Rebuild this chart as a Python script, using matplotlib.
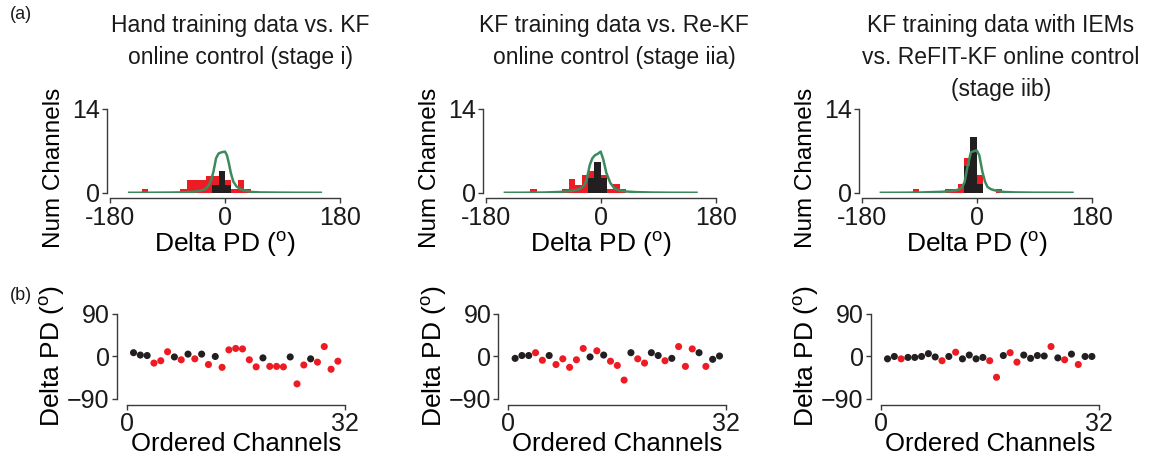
import matplotlib
matplotlib.use("Agg")
import matplotlib.pyplot as plt

plt.rcParams['font.family'] = ['Liberation Sans', 'DejaVu Sans']
plt.rcParams['mathtext.fontset'] = 'custom'
plt.rcParams['mathtext.rm'] = 'Liberation Sans'
plt.rcParams['mathtext.it'] = 'Liberation Sans'

# ---------------- data ----------------
titles = ["Hand training data vs. KF\nonline control (stage i)",
          "KF training data vs. Re-KF\nonline control (stage iia)",
          "KF training data with IEMs\nvs. ReFIT-KF online control\n(stage iib)"]

hist_xticks = [-180, 0, 180]
hist_yticks = [0, 14]
scat_xticks = [0, 32]
scat_yticks = [-90, 0, 90]
bin_width = 10

# histogram: left bin edges (deg) and bar heights
red_bins1 = [-130, -70, -60, -50, -40, -30, -20, -10, 0, 10, 20, 30]
red_h1 = [0.75, 0.7, 2.2, 2.2, 2.2, 2.9, 2.9, 2.9, 2.2, 0.7, 2.1, 0.7]
black_bins1 = [-20, -10, 0]
black_h1 = [1.4, 3.6, 1.4]

red_bins2 = [-110, -60, -50, -40, -30, -20, -10, 0, 10, 20, 30]
red_h2 = [0.75, 0.7, 2.3, 1.4, 3.0, 3.6, 5.0, 3.0, 0.75, 1.5, 0.75]
black_bins2 = [-20, -10, 0]
black_h2 = [2.5, 5.1, 2.5]

red_bins3 = [-100, -50, -40, -30, -20, -10, 0, 30]
red_h3 = [0.75, 0.75, 0.75, 1.5, 5.8, 9.4, 3.0, 0.75]
black_bins3 = [-20, -10, 0]
black_h3 = [4.5, 9.4, 1.5]

# green fitted curves
curve_x1 = [-150, -120, -90, -70, -50, -40, -31, -26, -22, -18, -14, -10, -5, 0,
            3, 6, 9, 13, 18, 24, 30, 40, 55, 80, 110, 150]
curve_y1 = [0.04, 0.05, 0.07, 0.1, 0.2, 0.35, 0.6, 1.2, 2.0, 3.6, 5.8, 6.6, 6.8, 6.9,
            6.3, 5.0, 3.4, 1.9, 1.1, 0.65, 0.42, 0.18, 0.1, 0.07, 0.05, 0.04]
curve_x2 = [-150, -120, -90, -65, -50, -40, -32, -26, -22, -17, -13, -9, -5, 0,
            4, 9, 15, 22, 30, 40, 55, 80, 110, 150]
curve_y2 = [0.04, 0.05, 0.08, 0.17, 0.3, 0.45, 0.7, 1.3, 2.2, 4.7, 5.8, 6.3, 6.5, 6.9,
            5.6, 3.3, 1.7, 0.7, 0.4, 0.25, 0.15, 0.08, 0.05, 0.04]
curve_x3 = [-150, -120, -90, -70, -55, -45, -35, -28, -23, -19, -14, -9, -4, 0,
            4, 9, 13, 17, 22, 28, 35, 43, 60, 90, 120, 150]
curve_y3 = [0.04, 0.05, 0.08, 0.15, 0.2, 0.28, 0.4, 0.6, 0.95, 1.8, 4.6, 6.8, 7.0, 7.1,
            6.3, 3.5, 1.9, 1.0, 0.65, 0.45, 0.3, 0.17, 0.1, 0.06, 0.05, 0.04]

# ordered channels: delta PD (deg) and significance flag (1 = red)
channels = list(range(1, 32))
dpd1 = [7, 2, 1, -15, -10, 9, -2, -8, 4, -6, 4, -18, -1, -24, 13, 16, 15, -8, -23, -4,
        -22, -22, -23, -2, -59, -19, -6, -13, 20, -28, -11]
sig1 = [0, 0, 0, 1, 1, 1, 0, 1, 0, 1, 0, 1, 0, 1, 1, 1, 1, 1, 1, 0,
        1, 1, 1, 0, 1, 1, 0, 1, 1, 1, 1]
dpd2 = [-5, 1, 1, 7, -9, 1, -18, -6, -24, -8, 16, -2, 11, 2, -11, -20, -51, 7, -6, -15,
        7, 1, -10, -5, 20, -22, 15, 7, -22, -7, 0]
sig2 = [0, 0, 0, 1, 1, 0, 1, 1, 1, 1, 1, 0, 1, 0, 1, 1, 1, 0, 1, 1,
        0, 0, 1, 0, 1, 1, 1, 0, 1, 0, 0]
dpd3 = [-6, -1, -6, -3, -3, -1, 5, -2, -10, -1, 8, -6, 2, -6, -3, -10, -45, 1, 7, -13,
        2, -5, 1, 0, 20, -4, -8, 4, -18, -1, -1]
sig3 = [0, 0, 1, 0, 0, 0, 0, 0, 1, 0, 1, 0, 0, 0, 0, 1, 1, 0, 1, 1,
        0, 0, 0, 0, 1, 0, 1, 0, 1, 0, 0]

hist_data = [(red_bins1, red_h1, black_bins1, black_h1, curve_x1, curve_y1),
             (red_bins2, red_h2, black_bins2, black_h2, curve_x2, curve_y2),
             (red_bins3, red_h3, black_bins3, black_h3, curve_x3, curve_y3)]
scat_data = [(dpd1, sig1), (dpd2, sig2), (dpd3, sig3)]

# ---------------- style ----------------
RED = '#ED1C24'
BLACK = '#231F20'
GREEN = '#3E8A5F'
SPINE = '#3a3a3a'
W, H = 1157, 459
DPI = 100
TICK_FS = 18
LAB_FS = 19
TITLE_FS = 16.5

fig = plt.figure(figsize=(W / DPI, H / DPI), dpi=DPI)


def px_axes(left, top, right, bottom):
    return fig.add_axes([left / W, 1 - bottom / H, (right - left) / W, (bottom - top) / H])


def style(ax, left_off, bottom_off, xpad=1.5):
    for s in ['top', 'right']:
        ax.spines[s].set_visible(False)
    for s in ['left', 'bottom']:
        ax.spines[s].set_color(SPINE)
        ax.spines[s].set_linewidth(1.0)
    ax.spines['left'].set_position(('outward', left_off))
    ax.spines['bottom'].set_position(('outward', bottom_off))
    ax.tick_params(axis='both', which='major', labelsize=TICK_FS, length=3.5,
                   width=1.0, color=SPINE, pad=1.5, labelcolor='#1a1a1a')
    ax.tick_params(axis='x', pad=xpad)
    ax.patch.set_alpha(0)


hist_left = [110, 485.7, 861.7]
scat_left = [126.7, 508.3, 880.7]
title_cx = [240, 614, 1001]

for i in range(3):
    rb, rh, bb, bh, cx, cy = hist_data[i]
    ax = px_axes(hist_left[i], 109, hist_left[i] + 230, 193)
    ax.bar(rb, rh, width=bin_width, align='edge', color=RED, linewidth=0)
    ax.bar(bb, bh, width=bin_width, align='edge', color=BLACK, linewidth=0)
    ax.plot(cx, cy, color=GREEN, lw=1.8, solid_joinstyle='round')
    ax.set_xlim(-180, 180)
    ax.set_ylim(0, 14)
    ax.set_xticks(hist_xticks)
    ax.set_yticks(hist_yticks)
    ax.set_xticklabels([str(t) for t in hist_xticks])
    style(ax, 2.2, 3.6, xpad=2.5)
    ax.set_xlabel(r'Delta PD ($^{\mathrm{o}}$)', fontsize=LAB_FS, labelpad=0)
    ax.set_ylabel('Num Channels', fontsize=17.5)
    ax.yaxis.set_label_coords(-45 / 230, 0.3)
    fig.text(title_cx[i] / W, 1 - 14 / H, titles[i], ha='center', va='top',
             fontsize=TITLE_FS, linespacing=1.5, color='#1a1a1a')

    vals, sig = scat_data[i]
    ax2 = px_axes(scat_left[i], 313.5, scat_left[i] + 218, 398.5)
    cols = [RED if s else BLACK for s in sig]
    ax2.scatter(channels, vals, s=26, c=cols, linewidths=0, zorder=3)
    ax2.set_xlim(0, 32)
    ax2.set_ylim(-90, 90)
    ax2.set_xticks(scat_xticks)
    ax2.set_yticks(scat_yticks)
    style(ax2, 7.2, 5.0)
    ax2.set_xlabel('Ordered Channels', fontsize=18.5, labelpad=-3)
    ax2.set_ylabel(r'Delta PD ($^{\mathrm{o}}$)', fontsize=LAB_FS, labelpad=0)

fig.text(10 / W, 1 - 6 / H, '(a)', ha='left', va='top', fontsize=13, color='#1a1a1a')
fig.text(10 / W, 1 - 287 / H, '(b)', ha='left', va='top', fontsize=13, color='#1a1a1a')

fig.savefig('out.png', dpi=DPI)
